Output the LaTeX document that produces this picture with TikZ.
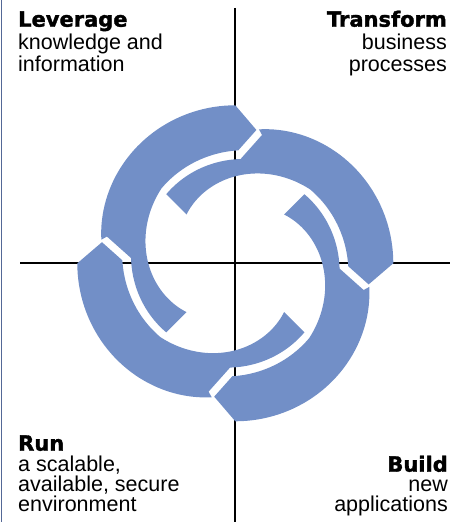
\documentclass[tikz,border=0pt]{standalone}
\usepackage{fontspec}
\setmainfont{Liberation Sans}
\newfontfamily\headfont{DejaVu Sans}[BoldFeatures={FakeBold=1.6}]
\definecolor{ringblue}{RGB}{114,143,199}
\definecolor{edgeblue}{RGB}{84,104,150}
\begin{document}
\begin{tikzpicture}[x=1pt,y=1pt,
  axis/.style={line width=1.8pt, black},
  headtxt/.style={font=\headfont\bfseries\fontsize{21}{21}\selectfont, inner sep=0pt},
  bodytxt/.style={font=\fontsize{21.5}{21.5}\selectfont, inner sep=0pt},
  piece/.style={fill=ringblue}]
\useasboundingbox (0,0) rectangle (464,522);
\coordinate (ltop) at (1.2,522);
\coordinate (lbot) at (1.2,0);
\draw[edgeblue, line width=1.2pt] (ltop) -- (lbot);
% axes
\coordinate (vtop) at (235.3,514);
\coordinate (vbot) at (235.3,0);
\coordinate (hleft) at (20,258.7);
\coordinate (hright) at (450,258.7);
\draw[axis] (vtop) -- (vbot);
\draw[axis] (hleft) -- (hright);
% ring pieces
\foreach \rot in {0,90,180,270}{
  \begin{scope}[shift={(235.3,258.7)}]
  \begin{scope}[rotate=\rot]
  \fill[piece] (0:158)
    -- plot[domain=0:80,samples=41] (\x:{158-0.00344*\x*\x})
    -- (78.24:131.1) -- (87.12:104.39)
    -- plot[domain=87.12:135,samples=25] (\x:{104-0.14*(\x-90)})
    -- (135:69)
    -- plot[domain=135:45,samples=46] (\x:{105-0.4*(\x-45)})
    -- plot[domain=45:-1.5,samples=24] (\x:{113-0.17*(\x+1.5)})
    -- (-9:135) -- cycle;
  \end{scope}
  \end{scope}
}
% labels
\node[headtxt, anchor=base west] (lev) at (18,495.3) {Leverage};
\node[bodytxt, anchor=base west] (lev1) at (18,472) {knowledge and};
\node[bodytxt, anchor=base west] (lev2) at (18,450.3) {information};
\node[headtxt, anchor=base east] (tra) at (447,495.3) {Transform};
\node[bodytxt, anchor=base east] (tra1) at (447,472) {business};
\node[bodytxt, anchor=base east] (tra2) at (447,450.3) {processes};
\node[headtxt, anchor=base west] (run) at (18,71.3) {Run};
\node[bodytxt, anchor=base west] (run1) at (18,50.3) {a scalable,};
\node[bodytxt, anchor=base west] (run2) at (18,30.3) {available, secure};
\node[bodytxt, anchor=base west] (run3) at (18,10.3) {environment};
\node[headtxt, anchor=base east] (bui) at (448,50.3) {Build};
\node[bodytxt, anchor=base east] (bui1) at (448,30.3) {new};
\node[bodytxt, anchor=base east] (bui2) at (448,10.3) {applications};
\end{tikzpicture}
\end{document}
